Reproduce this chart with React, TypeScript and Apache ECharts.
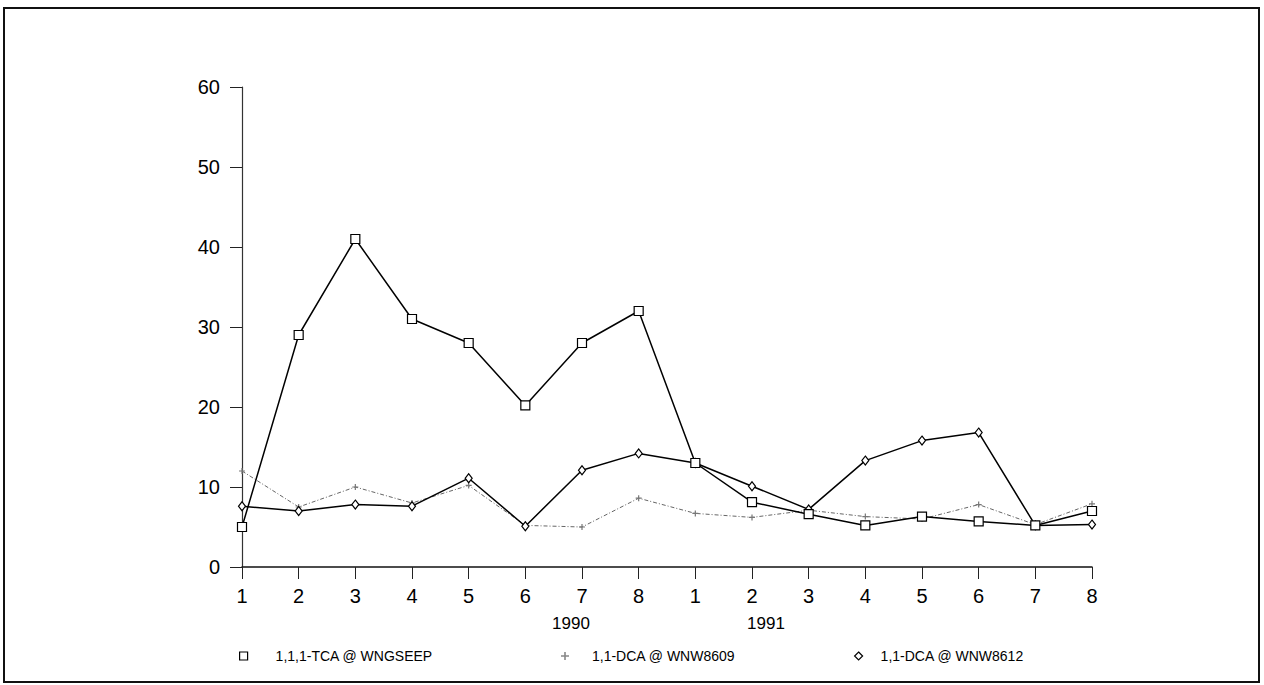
import React, { useEffect, useRef } from "react";
import * as echarts from "echarts";

const periods = [
  "1990-1", "1990-2", "1990-3", "1990-4", "1990-5", "1990-6", "1990-7", "1990-8",
  "1991-1", "1991-2", "1991-3", "1991-4", "1991-5", "1991-6", "1991-7", "1991-8",
];
const yearLabels = ["1990", "1991"];
const seriesNames = ["1,1,1-TCA @ WNGSEEP", "1,1-DCA @ WNW8609", "1,1-DCA @ WNW8612"];
const tcaWngseep = [5, 29, 41, 31, 28, 20.2, 28, 32, 13, 8.1, 6.6, 5.2, 6.3, 5.7, 5.2, 7.0];
const dcaWnw8609 = [12, 7.5, 10, 8, 10.2, 5.2, 5.0, 8.6, 6.7, 6.2, 7.1, 6.3, 6.0, 7.8, 5.3, 7.9];
const dcaWnw8612 = [7.6, 7.0, 7.8, 7.6, 11.1, 5.1, 12.1, 14.2, 13.0, 10.1, 7.2, 13.3, 15.8, 16.8, 5.2, 5.3];

const FONT = "'Liberation Sans', Arial, Helvetica, sans-serif";
const PLUS = "path://M2,0H3V2H5V3H3V5H2V3H0V2H2Z";

export default function App() {
  const ref = useRef<HTMLDivElement>(null);
  useEffect(() => {
    if (!ref.current) return;
    const chart = echarts.init(ref.current, null, { renderer: "svg" });
    const legendBase = {
      orient: "horizontal",
      top: 649,
      padding: 0,
      itemWidth: 8,
      itemHeight: 8,
      selectedMode: false,
    };
    chart.setOption({
      animation: false,
      backgroundColor: "#fff",
      textStyle: { fontFamily: FONT, color: "#000" },
      grid: { left: 242, right: 172, top: 87, bottom: 118 },
      xAxis: {
        type: "category",
        data: periods,
        boundaryGap: false,
        axisLine: { lineStyle: { color: "#111", width: 1.5 } },
        axisTick: { length: 12, lineStyle: { color: "#222", width: 1 } },
        axisLabel: {
          fontSize: 20,
          color: "#000",
          margin: 19,
          interval: 0,
          formatter: (v: string) => v.split("-")[1],
        },
        splitLine: { show: false },
      },
      yAxis: {
        type: "value",
        min: 0,
        max: 60,
        interval: 10,
        axisLine: { show: true, lineStyle: { color: "#333", width: 1.2 } },
        axisTick: { show: true, length: 12, lineStyle: { color: "#222", width: 1 } },
        axisLabel: { fontSize: 20, color: "#000", margin: 22 },
        splitLine: { show: false },
      },
      legend: [
        {
          ...legendBase,
          left: 239,
          data: [{ name: seriesNames[0], icon: "rect", itemStyle: { color: "#fff", borderColor: "#000", borderWidth: 1.2 } }],
          textStyle: { fontSize: 14, fontFamily: FONT, color: "#000", padding: [0, 0, 0, 23] },
        },
        {
          ...legendBase,
          left: 561,
          data: [{ name: seriesNames[1], icon: PLUS, itemStyle: { color: "#888", borderWidth: 0 } }],
          textStyle: { fontSize: 14, fontFamily: FONT, color: "#000", padding: [0, 0, 0, 18] },
        },
        {
          ...legendBase,
          left: 854,
          data: [{ name: seriesNames[2], icon: "diamond", itemStyle: { color: "#fff", borderColor: "#000", borderWidth: 1.2 } }],
          textStyle: { fontSize: 14, fontFamily: FONT, color: "#000", padding: [0, 0, 0, 13] },
        },
      ],
      graphic: [
        {
          type: "rect",
          shape: { x: 4, y: 8, width: 1255, height: 674 },
          style: { fill: "none", stroke: "#111", lineWidth: 2 },
          silent: true,
        },
        {
          type: "text",
          x: 571,
          y: 623,
          style: { text: yearLabels[0], font: `17px ${FONT}`, fill: "#000", align: "center", verticalAlign: "middle" },
        },
        {
          type: "text",
          x: 766,
          y: 623,
          style: { text: yearLabels[1], font: `17px ${FONT}`, fill: "#000", align: "center", verticalAlign: "middle" },
        },
      ],
      series: [
        {
          name: seriesNames[1],
          type: "line",
          data: dcaWnw8609,
          symbol: PLUS,
          symbolSize: 6,
          showSymbol: true,
          lineStyle: { color: "#666", width: 1, type: [4, 2, 1, 2] },
          itemStyle: { color: "#777", borderWidth: 0 },
          z: 2,
        },
        {
          name: seriesNames[2],
          type: "line",
          data: dcaWnw8612,
          symbol: "diamond",
          symbolSize: [7, 9],
          lineStyle: { color: "#000", width: 1.5 },
          itemStyle: { color: "#fff", borderColor: "#000", borderWidth: 1.2 },
          z: 3,
        },
        {
          name: seriesNames[0],
          type: "line",
          data: tcaWngseep,
          symbol: "rect",
          symbolSize: 9,
          lineStyle: { color: "#000", width: 1.5 },
          itemStyle: { color: "#fff", borderColor: "#000", borderWidth: 1.2 },
          z: 4,
        },
      ],
    });
    return () => chart.dispose();
  }, []);
  return (
    <div
      ref={ref}
      style={{ position: "fixed", left: 0, top: 0, width: 1264, height: 685, background: "#fff" }}
    />
  );
}
